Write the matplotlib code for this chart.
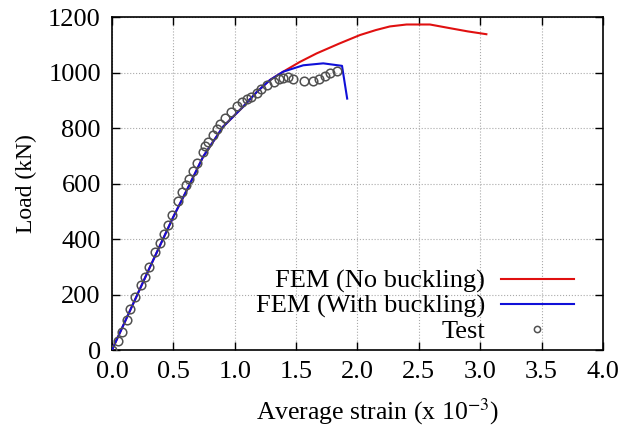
import matplotlib
matplotlib.use("Agg")
import matplotlib.pyplot as plt

plt.rcParams['font.family'] = ['Liberation Serif', 'DejaVu Serif']
plt.rcParams['mathtext.fontset'] = 'stix'

# Test data
test_x = [0.0, 0.049, 0.081, 0.125, 0.147, 0.19, 0.239, 0.272, 0.299, 0.353, 0.391, 0.424,
          0.456, 0.489, 0.538, 0.57, 0.603, 0.63, 0.662, 0.694, 0.738, 0.76, 0.78, 0.82,
          0.852, 0.88, 0.922, 0.966, 1.015, 1.058, 1.097, 1.134, 1.178, 1.216, 1.265,
          1.319, 1.357, 1.395, 1.434, 1.477, 1.564, 1.635, 1.683, 1.732, 1.775, 1.83]
test_y = [0, 33, 65, 108, 147, 190, 233, 264, 298, 355, 387, 418,
          449, 488, 538, 570, 594, 618, 645, 674, 712, 734, 748, 775,
          796, 815, 837, 856, 880, 894, 906, 913, 925, 940, 954,
          966, 976, 981, 983, 978, 969, 969, 978, 988, 997, 1006]

# FEM with buckling
buck_x = [0.0, 0.3, 0.5, 0.624, 0.743, 0.906, 1.069, 1.18, 1.287, 1.395, 1.558, 1.721, 1.874, 1.916]
buck_y = [0, 290, 480, 589, 697, 805, 877, 930, 973, 1003, 1026, 1033, 1024, 906]

# FEM no buckling
nob_x = [0.0, 0.3, 0.5, 0.624, 0.743, 0.906, 1.069, 1.18, 1.287, 1.395, 1.53, 1.668, 1.85,
         2.02, 2.15, 2.264, 2.4, 2.59, 2.75, 2.9, 3.05]
nob_y = [0, 290, 480, 589, 697, 805, 877, 930, 973, 1003, 1038, 1069, 1104,
         1135, 1153, 1166, 1173, 1173, 1160, 1148, 1138]

x_ticks = [0.0, 0.5, 1.0, 1.5, 2.0, 2.5, 3.0, 3.5, 4.0]
y_ticks = [0, 200, 400, 600, 800, 1000, 1200]

fig = plt.figure(figsize=(6.27, 4.36), dpi=100)
ax = fig.add_axes([0.1786, 0.1972, 0.7831, 0.7638])

ax.plot(nob_x, nob_y, color='#e01010', lw=1.5, label='FEM (No buckling)', zorder=3)
ax.plot(buck_x, buck_y, color='#1010d8', lw=1.5, label='FEM (With buckling)', zorder=4)
ax.plot(test_x, test_y, ls='none', marker='o', ms=6.2, mfc='none', mec='#505050',
        mew=1.1, label='Test', zorder=5)

ax.set_xlim(0, 4.0)
ax.set_ylim(0, 1200)
ax.set_xticks(x_ticks)
ax.set_xticklabels([f"{t:.1f}" for t in x_ticks])
ax.set_yticks(y_ticks)
ax.tick_params(direction='in', length=6, width=1, top=True, right=True,
               labelsize=19, pad=8)
ax.grid(True, ls=':', color='#aaaaaa', lw=0.8)
ax.set_axisbelow(True)
for s in ax.spines.values():
    s.set_linewidth(1.2)

ax.set_xlabel('Average strain (x 10$^{-3}$)', fontsize=18.5, labelpad=8)
ax.xaxis.set_label_coords(0.542, -0.14)
ax.set_ylabel('Load (kN)', fontsize=17, labelpad=8)

leg = ax.legend(loc='lower right', bbox_to_anchor=(0.978, -0.035), frameon=False,
                markerfirst=False, fontsize=19, handlelength=2.75, handletextpad=0.6,
                labelspacing=0.05, borderaxespad=0.3)
for h in leg.legend_handles:
    if h.get_marker() == 'o':
        h.set_markersize(4.5)

fig.savefig('out.png', dpi=100)
